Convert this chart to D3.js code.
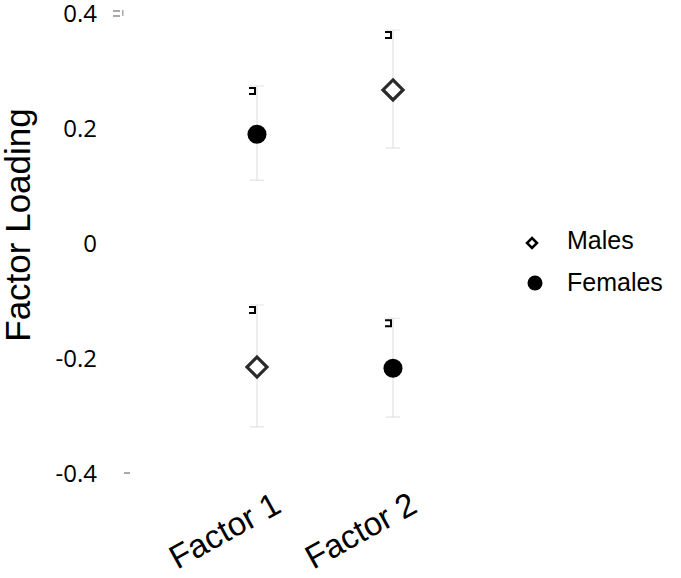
<!DOCTYPE html>
<html lang="en">
<head>
    <meta charset="UTF-8">
    <title>Factor Loading</title>
    <script src="https://d3js.org/d3.v7.min.js"></script>
    <style>
        body { margin: 0; background: #ffffff; }
        svg { display: block; }
    </style>
</head>
<body>
    <div id="chart"></div>
    <script>
        // data
        const factors = ["Factor 1", "Factor 2"];
        const malesMean = [-0.214, 0.268];
        const malesUpper = [-0.106, 0.372];
        const malesLower = [-0.318, 0.167];
        const femalesMean = [0.191, -0.216];
        const femalesUpper = [0.275, -0.129];
        const femalesLower = [0.111, -0.301];
        const yTicks = [0.4, 0.2, 0, -0.2, -0.4];
        const tickLabels = ["0.4", "0.2", "0", "-0.2", "-0.4"];

        const width = 681, height = 578;
        const svg = d3.select("#chart").append("svg")
            .attr("width", width)
            .attr("height", height);

        const x = d3.scalePoint().domain(factors).range([257, 393]);
        const y = d3.scaleLinear().domain([-0.4, 0.4]).range([474, 14]);

        // tick labels
        svg.append("g").selectAll("text")
            .data(yTicks)
            .enter().append("text")
            .attr("x", 97)
            .attr("y", d => y(d))
            .attr("dy", "0.35em")
            .attr("text-anchor", "end")
            .attr("font-family", "'Open Sans', sans-serif")
            .attr("font-size", 24)
            .attr("fill", "#000")
            .text((d, i) => tickLabels[i]);

        // stray grey tick marks by the end labels
        const marks = svg.append("g").attr("fill", "#aaa");
        marks.append("rect").attr("x", 113).attr("y", y(0.4) - 4).attr("width", 7).attr("height", 2);
        marks.append("rect").attr("x", 113).attr("y", y(0.4) + 1).attr("width", 7).attr("height", 2);
        marks.append("rect").attr("x", 122).attr("y", y(0.4) - 4).attr("width", 1.5).attr("height", 6);
        marks.append("rect").attr("x", 124).attr("y", y(-0.4) - 2).attr("width", 6).attr("height", 2);

        // axis title
        svg.append("text")
            .attr("transform", `translate(30, ${y(0) - 19}) rotate(-90)`)
            .attr("text-anchor", "middle")
            .attr("font-family", "'Liberation Sans', Arial, sans-serif")
            .attr("font-size", 35)
            .attr("fill", "#000")
            .text("Factor Loading");

        // category labels
        svg.append("g").selectAll("text")
            .data(factors)
            .enter().append("text")
            .attr("transform", d => `translate(${x(d) + 26}, 511) rotate(-29)`)
            .attr("text-anchor", "end")
            .attr("font-family", "'Liberation Sans', Arial, sans-serif")
            .attr("font-size", 33)
            .attr("fill", "#000")
            .text(d => d);

        function drawSeries(means, upper, lower, kind) {
            const g = svg.append("g");
            const rows = factors.map((f, i) => ({ f, m: means[i], hi: upper[i], lo: lower[i] }));

            // error bars
            g.selectAll("line.bar").data(rows).enter().append("line")
                .attr("x1", d => x(d.f)).attr("x2", d => x(d.f))
                .attr("y1", d => y(d.hi)).attr("y2", d => y(d.lo))
                .attr("stroke", "#dcdcdc").attr("stroke-width", 1);
            g.selectAll("line.capHi").data(rows).enter().append("line")
                .attr("x1", d => x(d.f) - 7).attr("x2", d => x(d.f) + 7)
                .attr("y1", d => y(d.hi)).attr("y2", d => y(d.hi))
                .attr("stroke", "#e4e4e4").attr("stroke-width", 1);
            g.selectAll("line.capLo").data(rows).enter().append("line")
                .attr("x1", d => x(d.f) - 7).attr("x2", d => x(d.f) + 7)
                .attr("y1", d => y(d.lo)).attr("y2", d => y(d.lo))
                .attr("stroke", "#dcdcdc").attr("stroke-width", 1);

            // little black bracket at top of each bar
            g.selectAll("path.br").data(rows).enter().append("path")
                .attr("d", d => {
                    const bx = x(d.f) - 2, by = y(d.hi) + 2;
                    return `M${bx - 6},${by} H${bx} V${by + 6} H${bx - 6}`;
                })
                .attr("fill", "none").attr("stroke", "#000").attr("stroke-width", 2);

            if (kind === "diamond") {
                g.selectAll("path.pt").data(rows).enter().append("path")
                    .attr("d", d => {
                        const cx = x(d.f), cy = y(d.m), r = 10;
                        return `M${cx},${cy - r} L${cx + r},${cy} L${cx},${cy + r} L${cx - r},${cy} Z`;
                    })
                    .attr("fill", "#fff").attr("stroke", "#2a2a2a").attr("stroke-width", 3.2);
            } else {
                g.selectAll("circle.pt").data(rows).enter().append("circle")
                    .attr("cx", d => x(d.f)).attr("cy", d => y(d.m))
                    .attr("r", 9.5).attr("fill", "#000");
            }
        }

        drawSeries(malesMean, malesUpper, malesLower, "diamond");
        drawSeries(femalesMean, femalesUpper, femalesLower, "circle");

        // legend
        const legend = svg.append("g");
        legend.append("path")
            .attr("d", "M532,238 L537,243 L532,248 L527,243 Z")
            .attr("fill", "#fff").attr("stroke", "#000").attr("stroke-width", 2.5);
        legend.append("circle").attr("cx", 535).attr("cy", 283).attr("r", 7.5).attr("fill", "#000");
        legend.append("text").attr("x", 567).attr("y", 249)
            .attr("font-family", "'Liberation Sans', Arial, sans-serif")
            .attr("font-size", 25).attr("fill", "#000").text("Males");
        legend.append("text").attr("x", 567).attr("y", 291)
            .attr("font-family", "'Liberation Sans', Arial, sans-serif")
            .attr("font-size", 25).attr("fill", "#000").text("Females");
    </script>
</body>
</html>
